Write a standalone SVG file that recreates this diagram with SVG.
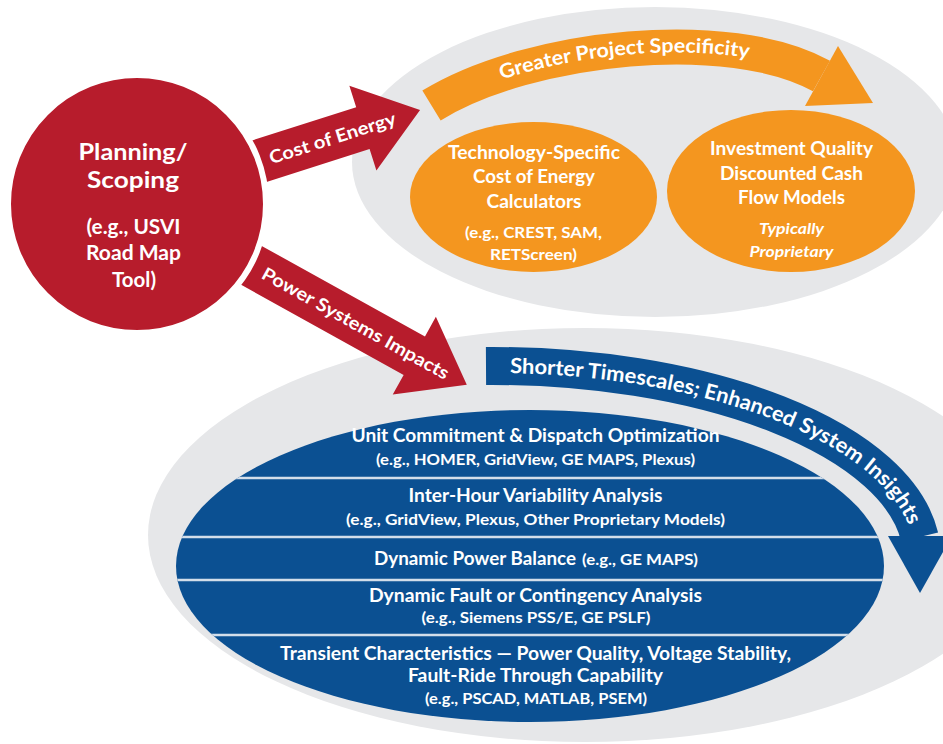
<svg xmlns="http://www.w3.org/2000/svg" width="943" height="744" viewBox="0 0 943 744">
<defs>
<style>
.t{font-family:Lato,"Open Sans","Liberation Sans",Arial,sans-serif;fill:#fff;text-anchor:middle}
.h{font-weight:700;font-size:18.5px}
.s{font-weight:700;font-size:16px}
.r{font-weight:700;font-size:23px}
.rs{font-weight:700;font-size:20px}
.a{font-weight:700;font-size:18px}
.i{font-style:italic;font-weight:700;font-size:16px}
.b{font-weight:700;font-size:21px;text-anchor:start}
.grey{fill:#e6e7e9}
.red{fill:#b71c2c}
.org{fill:#f4961f}
.blue{fill:#0b5092}
.div{stroke:#d3deea;stroke-width:2.5}
</style>
<clipPath id="blueClip"><ellipse cx="530" cy="566" rx="354" ry="156"/></clipPath>
<path id="orangeTextPath" d="M431.5,111 C530,50.5 730,30.5 821.5,81.5"/>
<path id="blueTextPath" d="M486,373 A423 184 0 0 1 912.5,537"/>
</defs>
<rect width="943" height="744" fill="#fff"/>

<g id="node-cost-tools">
<ellipse class="grey" cx="655" cy="162" rx="303" ry="155"/>
</g>
<g id="node-power-tools">
<ellipse class="grey" cx="585" cy="535" rx="437" ry="207"/>
</g>

<g id="banner-specificity">
<path d="M431.5,105.5 C530,45 730,25 821.5,76" fill="none" stroke="#f4961f" stroke-width="35"/>
<polygon class="org" points="838,46 873,103 805,106"/>
<text class="t" style="font-weight:700;font-size:20px"><textPath href="#orangeTextPath" startOffset="50%" textLength="250" lengthAdjust="spacingAndGlyphs">Greater Project Specificity</textPath></text>
</g>

<g id="node-tech-calculators">
<ellipse class="org" cx="533.5" cy="197" rx="123.5" ry="75"/>
<text class="t h" x="534" y="159" textLength="172" lengthAdjust="spacingAndGlyphs">Technology-Specific</text>
<text class="t h" x="534" y="183" textLength="122" lengthAdjust="spacingAndGlyphs">Cost of Energy</text>
<text class="t h" x="534" y="207.5" textLength="95" lengthAdjust="spacingAndGlyphs">Calculators</text>
<text class="t s" x="533.5" y="238" textLength="137" lengthAdjust="spacingAndGlyphs">(e.g., CREST, SAM,</text>
<text class="t s" x="533.5" y="260" textLength="87" lengthAdjust="spacingAndGlyphs">RETScreen)</text>
</g>

<g id="node-investment-models">
<ellipse class="org" cx="791" cy="191" rx="124" ry="81"/>
<text class="t h" x="791.5" y="155" textLength="163" lengthAdjust="spacingAndGlyphs">Investment Quality</text>
<text class="t h" x="791.5" y="180" textLength="143" lengthAdjust="spacingAndGlyphs">Discounted Cash</text>
<text class="t h" x="791.5" y="203.5" textLength="107" lengthAdjust="spacingAndGlyphs">Flow Models</text>
<text class="t i" x="791.5" y="234" textLength="65" lengthAdjust="spacingAndGlyphs">Typically</text>
<text class="t i" x="791.5" y="257" textLength="84" lengthAdjust="spacingAndGlyphs">Proprietary</text>
</g>

<g id="banner-timescales">
<path d="M486,366 A430 191 0 0 1 919.6,537" fill="none" stroke="#0b5092" stroke-width="38"/>
<polygon class="blue" points="888,536 952,536 920,593"/>
<text class="t b"><textPath href="#blueTextPath" startOffset="24" textLength="190" lengthAdjust="spacingAndGlyphs">Shorter Timescales;</textPath></text>
<text class="t b"><textPath href="#blueTextPath" startOffset="219" textLength="94" lengthAdjust="spacingAndGlyphs">Enhanced</textPath></text>
<text class="t b"><textPath href="#blueTextPath" startOffset="319" textLength="150" lengthAdjust="spacingAndGlyphs">System Insights</textPath></text>
</g>

<g id="node-power-analyses">
<ellipse class="blue" cx="530" cy="566" rx="354" ry="156"/>
<g clip-path="url(#blueClip)">
<line class="div" x1="170" y1="478" x2="890" y2="478"/>
<line class="div" x1="170" y1="537" x2="890" y2="537"/>
<line class="div" x1="170" y1="580" x2="890" y2="580"/>
<line class="div" x1="170" y1="635" x2="890" y2="635"/>
</g>
<text class="t h" x="535.5" y="442" textLength="368" lengthAdjust="spacingAndGlyphs">Unit Commitment &amp; Dispatch Optimization</text>
<text class="t s" x="535.5" y="465" textLength="319" lengthAdjust="spacingAndGlyphs">(e.g., HOMER, GridView, GE MAPS, Plexus)</text>
<text class="t h" x="535.5" y="502" textLength="254" lengthAdjust="spacingAndGlyphs">Inter-Hour Variability Analysis</text>
<text class="t s" x="535.5" y="525" textLength="379" lengthAdjust="spacingAndGlyphs">(e.g., GridView, Plexus, Other Proprietary Models)</text>
<text class="t h" x="374" y="565" style="text-anchor:start" textLength="202" lengthAdjust="spacingAndGlyphs">Dynamic Power Balance</text>
<text class="t s" x="582" y="565" style="text-anchor:start" textLength="116" lengthAdjust="spacingAndGlyphs">(e.g., GE MAPS)</text>
<text class="t h" x="535.5" y="602" textLength="333" lengthAdjust="spacingAndGlyphs">Dynamic Fault or Contingency Analysis</text>
<text class="t s" x="536" y="623" textLength="229" lengthAdjust="spacingAndGlyphs">(e.g., Siemens PSS/E, GE PSLF)</text>
<text class="t h" x="535.5" y="659.5" style="font-size:18px" textLength="511" lengthAdjust="spacingAndGlyphs">Transient Characteristics — Power Quality, Voltage Stability,</text>
<text class="t h" x="535.5" y="681.5" style="font-size:18px" textLength="255" lengthAdjust="spacingAndGlyphs">Fault-Ride Through Capability</text>
<text class="t s" x="536" y="703.5" textLength="222" lengthAdjust="spacingAndGlyphs">(e.g., PSCAD, MATLAB, PSEM)</text>
</g>

<g id="connectors">
<g transform="translate(260,161) rotate(-17.7)">
<polygon class="red" points="-25,-22 108,-22 108,-44.5 168,0 108,44.5 108,22 -25,22"/>
<text class="t a" x="76" y="6.5" textLength="132" lengthAdjust="spacingAndGlyphs">Cost of Energy</text>
</g>
<g transform="translate(252.5,266) rotate(29)">
<polygon class="red" points="-25,-22 185,-22 185,-44.5 245,0 185,44.5 185,22 -25,22"/>
<text class="t a" x="118" y="6.5" textLength="211" lengthAdjust="spacingAndGlyphs">Power Systems Impacts</text>
</g>
</g>

<g id="node-planning">
<circle cx="137" cy="204" r="129" fill="#b71c2c" stroke="#fff" stroke-width="6"/>
<text class="t r" x="133" y="160" textLength="109" lengthAdjust="spacingAndGlyphs">Planning/</text>
<text class="t r" x="133" y="188" textLength="92" lengthAdjust="spacingAndGlyphs">Scoping</text>
<text class="t rs" x="133.5" y="234" textLength="94" lengthAdjust="spacingAndGlyphs">(e.g., USVI</text>
<text class="t rs" x="133.5" y="260" textLength="95" lengthAdjust="spacingAndGlyphs">Road Map</text>
<text class="t rs" x="134" y="287" textLength="44" lengthAdjust="spacingAndGlyphs">Tool)</text>
</g>
</svg>
